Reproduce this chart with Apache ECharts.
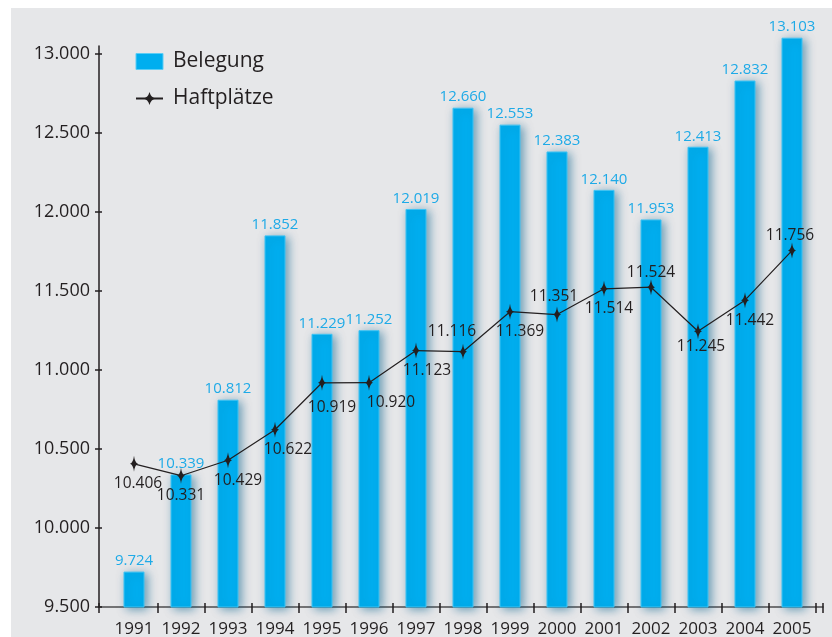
<!DOCTYPE html>
<html>
<head>
<meta charset="utf-8">
<script src="https://cdn.jsdelivr.net/npm/echarts@6/dist/echarts.min.js"></script>
<style>
html,body{margin:0;padding:0;background:#fff;}
#c{width:832px;height:637px;}
</style>
</head>
<body>
<div id="c"></div>
<script>
const years = ['1991','1992','1993','1994','1995','1996','1997','1998','1999','2000','2001','2002','2003','2004','2005'];
const belegung = [9724,10339,10812,11852,11229,11252,12019,12660,12553,12383,12140,11953,12413,12832,13103];
const haftplaetze = [10406,10331,10429,10622,10919,10920,11123,11116,11369,11351,11514,11524,11245,11442,11756];
const yMin = 9500, yMax = 13000, yStep = 500;

// label styling for the line (placement only)
const lineLabelAbove = ['1998','2000','2002','2005'];
const lineLabelDx = [4,0,10,13,10,22,11,-11,10,-3,5,0,3,5,-2];
const lineLabelDy = [0,0,0,0,5,0,0,0,0,2,0,5,-5,0,5];

function fmt(n){ return String(n).replace(/\B(?=(\d{3})+(?!\d))/g,'.'); }

const FONT = '"Open Sans", "Noto Sans", sans-serif';
const INK = '#231f20';
const CYAN = '#00aeef';

const diamond = 'path://M0,-10 Q0.9,-1.2 4,0 Q0.9,1.2 0,10 Q-0.9,1.2 -4,0 Q-0.9,-1.2 0,-10 Z';

const chart = echarts.init(document.getElementById('c'), null, {renderer:'canvas'});

const lineData = haftplaetze.map((v,i)=>{
  const above = lineLabelAbove.indexOf(years[i]) >= 0;
  return {
    value: v,
    label: { position: above ? 'top' : 'bottom', offset: [lineLabelDx[i], lineLabelDy[i]] }
  };
});

// data grid extends above the visible axis so the tallest bar fits
const dataTopValue = 13150;
const pxPer500 = 79;

chart.setOption({
  backgroundColor: '#ffffff',
  animation: false,
  graphic: [{
    type: 'rect', left: 11, top: 8, z: -10, silent: true,
    shape: { width: 821, height: 629 },
    style: { fill: '#e6e7e9' }
  }],
  textStyle: { fontFamily: FONT },
  legend: {
    orient: 'vertical', left: 130, top: 46,
    itemWidth: 27, itemHeight: 16, itemGap: 16,
    textStyle: { fontSize: 21, color: INK, fontFamily: FONT, padding: [0,0,0,5] },
    data: [
      { name: 'Belegung', icon: 'rect', itemStyle: { color: CYAN, borderColor: '#5ccdf5', borderWidth: 1 } },
      { name: 'Haftplätze' }
    ]
  },
  grid: [
    { left: 110.5, right: 16.5, top: 607 - (dataTopValue - yMin) / 500 * pxPer500, bottom: 30, outerBoundsMode: 'none' },
    { left: 99, right: 9, top: 54, bottom: 30, outerBoundsMode: 'none' },
    { left: 99, right: 9, top: 46, bottom: 30, outerBoundsMode: 'none' }
  ],
  xAxis: [
    { type: 'category', gridIndex: 0, data: years, boundaryGap: true,
      axisLine: { show: false },
      axisTick: { show: true, length: 6, lineStyle: { color: INK, width: 1.5 },
        interval: function(i){ return i !== 0; } },
      axisLabel: { fontSize: 17, color: INK, margin: 14, fontFamily: FONT, interval: 0 },
      splitLine: { show: false }
    },
    { type: 'category', gridIndex: 0, data: years, boundaryGap: true, position: 'bottom',
      axisLine: { show: false },
      axisTick: { show: true, inside: true, length: 4, lineStyle: { color: INK, width: 1.5 },
        interval: function(i){ return i !== 0; } },
      axisLabel: { show: false }, splitLine: { show: false }
    },
    { type: 'value', gridIndex: 1, min: 0, max: 1, interval: 1,
      axisLine: { show: true, lineStyle: { color: '#4d4d4f', width: 1.5 } },
      axisTick: { show: true, length: 6, lineStyle: { color: INK, width: 1.5 } },
      axisLabel: { show: false }, splitLine: { show: false }
    },
    { type: 'value', gridIndex: 1, min: 0, max: 1, interval: 1, position: 'bottom',
      axisLine: { show: false },
      axisTick: { show: true, inside: true, length: 4, lineStyle: { color: INK, width: 1.5 } },
      axisLabel: { show: false }, splitLine: { show: false }
    },
    { type: 'value', gridIndex: 2, min: 0, max: 1, show: false }
  ],
  yAxis: [
    { type: 'value', gridIndex: 0, min: yMin, max: dataTopValue, show: false },
    { type: 'value', gridIndex: 1, min: yMin, max: yMax, interval: yStep,
      axisLine: { show: false },
      axisTick: { show: true, length: 4, lineStyle: { color: INK, width: 1.5 } },
      axisLabel: { fontSize: 18, color: INK, margin: 9, fontFamily: FONT, formatter: v => fmt(v) },
      splitLine: { show: false }
    },
    { type: 'value', gridIndex: 1, min: yMin, max: yMax, interval: yStep, position: 'left',
      axisLine: { show: false },
      axisTick: { show: true, inside: true, length: 3, lineStyle: { color: INK, width: 1.5 } },
      axisLabel: { show: false }, splitLine: { show: false }
    },
    { type: 'value', gridIndex: 2, min: 0, max: 1,
      axisLine: { show: true, lineStyle: { color: INK, width: 1.5 } },
      axisTick: { show: false }, axisLabel: { show: false }, splitLine: { show: false }
    }
  ],
  series: [
    { name: 'Belegung', type: 'bar', xAxisIndex: 0, yAxisIndex: 0,
      data: belegung, barWidth: 21,
      itemStyle: { color: CYAN, borderColor: '#3fc3f3', borderWidth: 1,
        shadowColor: 'rgba(0,95,140,0.55)', shadowBlur: 10, shadowOffsetX: 3, shadowOffsetY: 2 },
      label: { show: true, position: 'top', distance: 3, fontSize: 15, color: '#1eaae7',
        fontFamily: FONT, formatter: p => fmt(p.value) },
      z: 2
    },
    { name: 'Haftplätze', type: 'line', xAxisIndex: 0, yAxisIndex: 0,
      data: lineData,
      symbol: diamond, symbolSize: [8, 16],
      lineStyle: { color: INK, width: 1.2 },
      itemStyle: { color: INK },
      label: { show: true, fontSize: 15.5, color: INK, distance: 4, fontFamily: FONT,
        formatter: p => fmt(p.value) },
      z: 5
    }
  ]
});
</script>
</body>
</html>
